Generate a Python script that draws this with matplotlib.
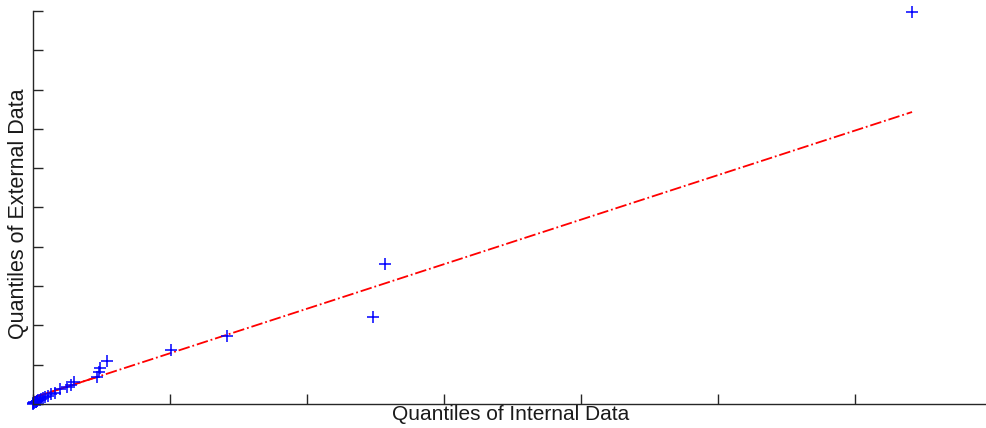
import matplotlib
matplotlib.use("Agg")
import matplotlib.pyplot as plt

# sorted quantiles
internal_q = [0.00, 0.00, 0.01, 0.01, 0.02, 0.02, 0.03, 0.03, 0.04, 0.05,
              0.06, 0.07, 0.09, 0.11, 0.13, 0.16, 0.20, 0.25, 0.28, 0.30,
              0.47, 0.48, 0.49, 0.54, 1.01, 1.42, 2.48, 2.57, 6.42]
external_q = [0.01, 0.02, 0.03, 0.04, 0.05, 0.06, 0.07, 0.08, 0.09, 0.10,
              0.12, 0.14, 0.17, 0.21, 0.25, 0.29, 0.38, 0.42, 0.48, 0.56,
              0.69, 0.81, 0.92, 1.09, 1.37, 1.73, 2.21, 3.56, 9.97]

# reference line: solid between the quartiles, dash-dot out to the extremes
quart_x = [0.01, 0.47]
quart_y = [0.17, 0.69]
ext_x = [0.00, 0.47, 6.42]
ext_y = [0.16, 0.69, 7.43]

plt.rcParams['font.family'] = ['Liberation Sans', 'DejaVu Sans']

fig = plt.figure(figsize=(9.86, 4.28), dpi=100)
ax = fig.add_axes([33 / 986, 24 / 428, 953 / 986, 393 / 428])

ax.plot(ext_x, ext_y, color='red', linestyle='-.', linewidth=1.3)
ax.plot(quart_x, quart_y, color='red', linestyle='-', linewidth=1.3)
ax.plot(internal_q, external_q, linestyle='none', marker='+',
        color='blue', markersize=8, markeredgewidth=1.1, clip_on=False)

ax.set_xlim(0, 6.96)
ax.set_ylim(0, 10)
ax.set_xticks(range(0, 7))
ax.set_yticks(range(0, 11))
ax.set_xticklabels([])
ax.set_yticklabels([])
ax.tick_params(direction='in', length=7, width=1, color='#262626')

for side in ['top', 'right']:
    ax.spines[side].set_visible(False)
for side in ['left', 'bottom']:
    ax.spines[side].set_color('#262626')
    ax.spines[side].set_linewidth(1)

ax.set_xlabel('Quantiles of Internal Data', fontsize=15, color='#1a1a1a')
ax.set_ylabel('Quantiles of External Data', fontsize=15.5, color='#1a1a1a')
ax.xaxis.set_label_coords(0.5016, -0.003, transform=ax.transAxes)
ax.xaxis.label.set_va('top')
ax.yaxis.set_label_coords(-0.004, 0.483, transform=ax.transAxes)
ax.yaxis.label.set_va('bottom')

fig.savefig('out.png', dpi=100)
